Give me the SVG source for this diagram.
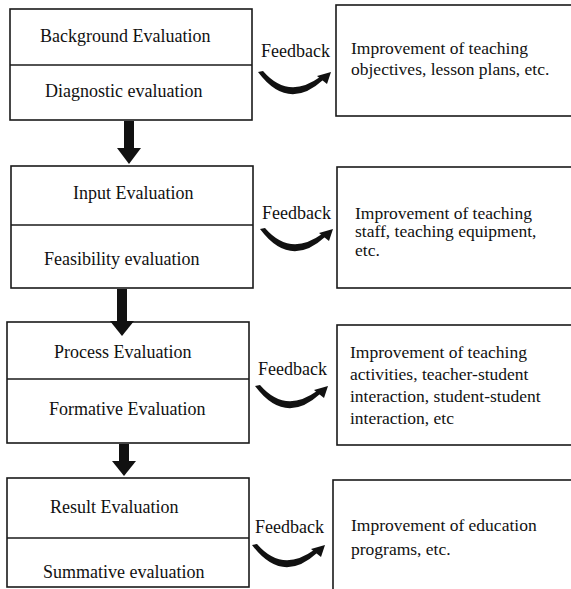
<svg xmlns="http://www.w3.org/2000/svg" width="571" height="589" viewBox="0 0 571 589">
<style>
.box{fill:#fff;stroke:#1a1a1a;stroke-width:1.6}
.div{stroke:#1a1a1a;stroke-width:1.4}
.t{font-family:'Liberation Serif','Times New Roman',Tinos,'DejaVu Serif',serif;font-size:18px;fill:#111}
.r{font-family:'Liberation Serif','Times New Roman',Tinos,'DejaVu Serif',serif;font-size:17.5px;fill:#111}
.arr{fill:#111}
</style>
<defs>
<g id="fb">
<path d="M0,0 Q30,40 65,8 L62,5 Q30,28 5,-1 Z" class="arr"/>
<polygon points="73,0 69,12 59,4" class="arr"/>
</g>
</defs>
<rect width="571" height="589" fill="#fff"/>
<g id="n1">
<rect x="10" y="9" width="242" height="111" class="box"/>
<line x1="10" y1="65" x2="252" y2="65" class="div"/>
<text x="40" y="42" class="t" font-family="Liberation Serif, serif">Background Evaluation</text>
<text x="45" y="97" class="t" font-family="Liberation Serif, serif">Diagnostic evaluation</text>
</g>
<g id="f1"><text x="261" y="57" class="t">Feedback</text></g>
<g id="r1">
<rect x="336" y="5" width="236" height="111" class="box"/>
<text x="351" y="54" class="r">Improvement of teaching</text>
<text x="351" y="75" class="r">objectives, lesson plans, etc.</text>
</g>
<g id="n2">
<rect x="11" y="166" width="242" height="122" class="box"/>
<line x1="11" y1="225" x2="253" y2="225" class="div"/>
<text x="73" y="199" class="t">Input Evaluation</text>
<text x="44" y="265" class="t">Feasibility evaluation</text>
</g>
<g id="f2"><text x="262" y="219" class="t">Feedback</text></g>
<g id="r2">
<rect x="337" y="167" width="236" height="121" class="box"/>
<text x="355" y="219" class="r">Improvement of teaching</text>
<text x="355" y="237" class="r">staff, teaching equipment,</text>
<text x="355" y="256" class="r">etc.</text>
</g>
<g id="n3">
<rect x="7" y="322" width="242" height="121" class="box"/>
<line x1="7" y1="379" x2="249" y2="379" class="div"/>
<text x="54" y="358" class="t">Process Evaluation</text>
<text x="49" y="415" class="t">Formative Evaluation</text>
</g>
<g id="f3"><text x="258" y="375" class="t">Feedback</text></g>
<g id="r3">
<rect x="337" y="325" width="236" height="120" class="box"/>
<text x="350" y="358" class="r">Improvement of teaching</text>
<text x="350" y="380" class="r">activities, teacher-student</text>
<text x="350" y="402" class="r">interaction, student-student</text>
<text x="350" y="424" class="r">interaction, etc</text>
</g>
<g id="n4">
<rect x="7" y="478" width="242" height="109" class="box"/>
<line x1="7" y1="538" x2="249" y2="538" class="div"/>
<text x="50" y="513" class="t">Result Evaluation</text>
<text x="43" y="578" class="t">Summative evaluation</text>
</g>
<g id="f4"><text x="255" y="533" class="t">Feedback</text></g>
<g id="r4">
<rect x="333" y="480" width="240" height="115" class="box"/>
<text x="351" y="531" class="r">Improvement of education</text>
<text x="351" y="555" class="r">programs, etc.</text>
</g>
<g id="connectors">
<g id="a1"><rect x="124" y="121" width="10" height="29" class="arr"/><polygon points="117,148 141,148 129,164" class="arr"/></g>
<g id="a2"><rect x="117" y="289" width="10" height="34" class="arr"/><polygon points="110,321 134,321 122,336" class="arr"/></g>
<g id="a3"><rect x="119" y="444" width="10" height="18" class="arr"/><polygon points="112,461 136,461 124,476" class="arr"/></g>
<use href="#fb" x="258" y="72"/>
<use href="#fb" x="260" y="229"/>
<use href="#fb" x="255" y="386"/>
<use href="#fb" x="252" y="545"/>
</g>
</svg>
